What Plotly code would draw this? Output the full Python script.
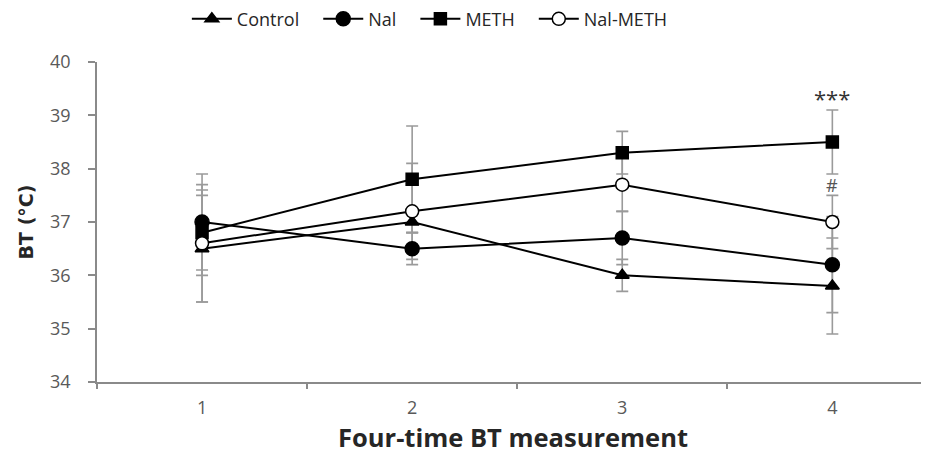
import plotly.graph_objects as go

x = [1, 2, 3, 4]
series_names = ["Control", "Nal", "METH", "Nal-METH"]
control = [36.5, 37.0, 36.0, 35.8]
control_err = [1.0, 0.2, 0.3, 0.9]
nal = [37.0, 36.5, 36.7, 36.2]
nal_err = [0.9, 0.3, 0.5, 0.9]
meth = [36.8, 37.8, 38.3, 38.5]
meth_err = [0.8, 1.0, 0.4, 0.6]
nalmeth = [36.6, 37.2, 37.7, 37.0]
nalmeth_err = [1.1, 0.9, 0.5, 0.5]
y_ticks = [34, 35, 36, 37, 38, 39, 40]

values = [control, nal, meth, nalmeth]
errors = [control_err, nal_err, meth_err, nalmeth_err]
symbols = ["triangle-up", "circle", "square", "circle"]
fills = ["black", "black", "black", "white"]
sizes = [12, 14, 12, 13]

fig = go.Figure()
# error bars first (beneath all lines)
for v, e in zip(values, errors):
    fig.add_trace(go.Scatter(
        x=x, y=v, mode="markers", showlegend=False, hoverinfo="skip",
        marker=dict(size=1, color="rgba(0,0,0,0)"),
        error_y=dict(type="data", array=e, visible=True, color="#9a9a9a",
                     thickness=1.6, width=6)))
for name, v, sym, fc, sz in zip(series_names, values, symbols, fills, sizes):
    fig.add_trace(go.Scatter(
        x=x, y=v, mode="lines+markers", name=name + "\u00a0\u00a0\u00a0",
        line=dict(color="black", width=2),
        marker=dict(symbol=sym, size=sz, color=fc,
                    line=dict(color="black", width=1.5))))

fig.add_annotation(x=4, y=39.32, text="***", showarrow=False,
                   font=dict(size=22, color="#333333"))
fig.add_annotation(x=4, y=37.7, text="#", showarrow=False,
                   font=dict(size=18, color="#555555"))

# page body has an 8px margin, so the figure is sized 8px smaller
fig.update_layout(
    width=921, height=446,
    margin=dict(l=89, r=0, t=54, b=72, autoexpand=False),
    paper_bgcolor="white", plot_bgcolor="white",
    font=dict(family="Open Sans", color="#262626"),
    legend=dict(orientation="h", x=0.108, xanchor="left", y=1.134, yanchor="middle",
                font=dict(size=18, color="#262626"), itemwidth=40,
                bgcolor="rgba(0,0,0,0)"),
    xaxis=dict(range=[0.5, 4.46], tickvals=x, ticktext=[str(i) for i in x],
               ticks="", showgrid=False, zeroline=False, automargin=False,
               showline=True, linecolor="#8a8a8a", linewidth=1.5,
               tickfont=dict(size=18, color="#595959"), ticklabelstandoff=9,
               minor=dict(ticks="outside", tick0=0.5, dtick=1, ticklen=5,
                          tickcolor="#8a8a8a", tickwidth=1.5, showgrid=False),
               title=dict(text="<b>Four-time BT measurement</b>",
                          font=dict(size=25.5, color="#262626"), standoff=18)),
    yaxis=dict(range=[34, 40], tickvals=y_ticks, ticks="outside", ticklen=7,
               tickcolor="#8a8a8a", tickwidth=1.5, showgrid=False, zeroline=False,
               automargin=False,
               showline=True, linecolor="#8a8a8a", linewidth=1.5,
               tickfont=dict(size=18, color="#595959"), ticklabelstandoff=14,
               title=dict(text="<b>BT (°C)</b>",
                          font=dict(family="DejaVu Sans", size=19, color="#262626"),
                          standoff=11)),
)

fig.write_html("out.html")
